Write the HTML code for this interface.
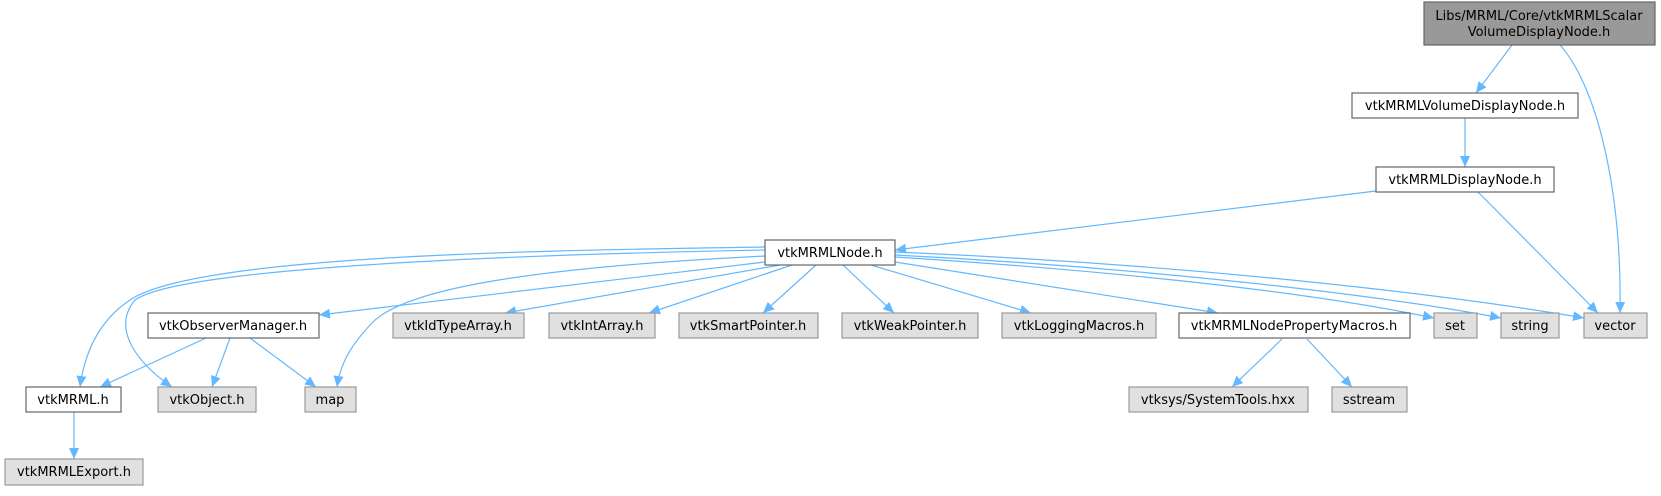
<!DOCTYPE html>
<html><head><meta charset="utf-8"><style>
body{margin:0;background:#fff}
svg text{font-family:"DejaVu Sans","Liberation Sans",sans-serif;font-size:13px;fill:#000}
</style></head><body>
<svg width="1661" height="491" viewBox="0 0 1661 491" xmlns="http://www.w3.org/2000/svg">
<defs><marker id="a" markerUnits="userSpaceOnUse" markerWidth="12" markerHeight="10" refX="11" refY="5" orient="auto"><path d="M0,0 L11,5 L0,10 Z" fill="#63b8ff"/></marker></defs>
<g fill="none" stroke="#63b8ff" stroke-width="1.2" marker-end="url(#a)">
<path d="M1512,45 L1476,93"/>
<path d="M1560,45 C1600,90 1622,200 1620,313"/>
<path d="M1465,118 L1465,167"/>
<path d="M1376,191 L895,250"/>
<path d="M1478,192 L1598,313"/>
<path d="M765,247 C600,250 200,252 130,300 C100,320 85,350 80,387"/>
<path d="M765,250 C500,255 180,268 135,300 C110,330 140,365 172,387"/>
<path d="M765,256 C520,268 410,290 375,320 C350,345 340,365 337,387"/>
<path d="M765,262 L319,315"/>
<path d="M780,265 L505,313"/>
<path d="M792,265 L649,313"/>
<path d="M816,265 L763,313"/>
<path d="M843,265 L894,313"/>
<path d="M871,265 L1031,313"/>
<path d="M895,262 L1218,313"/>
<path d="M895,257 C1100,270 1300,290 1434,318"/>
<path d="M895,255 C1150,268 1380,295 1501,318"/>
<path d="M895,252 C1200,265 1450,295 1584,318"/>
<path d="M206,338 L100,387"/>
<path d="M230,338 L212,387"/>
<path d="M250,338 L316,387"/>
<path d="M74,412 L74,459"/>
<path d="M1282,339 L1232,387"/>
<path d="M1307,339 L1352,387"/>
</g>
<g stroke-width="1.2">
<rect x="1424" y="2" width="231" height="43" fill="#999" stroke="#666"/>
<rect x="1352" y="93" width="226" height="25" fill="#fff" stroke="#666"/>
<rect x="1376" y="167" width="178" height="25" fill="#fff" stroke="#666"/>
<rect x="765" y="240" width="130" height="25" fill="#fff" stroke="#666"/>
<rect x="148" y="313" width="171" height="25" fill="#fff" stroke="#666"/>
<rect x="393" y="313" width="131" height="25" fill="#e0e0e0" stroke="#999"/>
<rect x="549" y="313" width="106" height="25" fill="#e0e0e0" stroke="#999"/>
<rect x="679" y="313" width="139" height="25" fill="#e0e0e0" stroke="#999"/>
<rect x="842" y="313" width="136" height="25" fill="#e0e0e0" stroke="#999"/>
<rect x="1002" y="313" width="154" height="25" fill="#e0e0e0" stroke="#999"/>
<rect x="1179" y="313" width="231" height="25" fill="#fff" stroke="#666"/>
<rect x="1434" y="313" width="43" height="25" fill="#e0e0e0" stroke="#999"/>
<rect x="1501" y="313" width="58" height="25" fill="#e0e0e0" stroke="#999"/>
<rect x="1584" y="313" width="63" height="25" fill="#e0e0e0" stroke="#999"/>
<rect x="26" y="387" width="95" height="25" fill="#fff" stroke="#666"/>
<rect x="158" y="387" width="98" height="25" fill="#e0e0e0" stroke="#999"/>
<rect x="305" y="387" width="51" height="25" fill="#e0e0e0" stroke="#999"/>
<rect x="1129" y="387" width="179" height="25" fill="#e0e0e0" stroke="#999"/>
<rect x="1332" y="387" width="75" height="25" fill="#e0e0e0" stroke="#999"/>
<rect x="5" y="459" width="138" height="26" fill="#e0e0e0" stroke="#999"/>
</g>
<g text-anchor="middle">
<text x="1539" y="20">Libs/MRML/Core/vtkMRMLScalar</text>
<text x="1539" y="36">VolumeDisplayNode.h</text>
<text x="1465" y="110">vtkMRMLVolumeDisplayNode.h</text>
<text x="1465" y="184">vtkMRMLDisplayNode.h</text>
<text x="830" y="257">vtkMRMLNode.h</text>
<text x="233" y="330">vtkObserverManager.h</text>
<text x="458" y="330">vtkIdTypeArray.h</text>
<text x="602" y="330">vtkIntArray.h</text>
<text x="748" y="330">vtkSmartPointer.h</text>
<text x="910" y="330">vtkWeakPointer.h</text>
<text x="1079" y="330">vtkLoggingMacros.h</text>
<text x="1294" y="330">vtkMRMLNodePropertyMacros.h</text>
<text x="1455" y="330">set</text>
<text x="1530" y="330">string</text>
<text x="1615" y="330">vector</text>
<text x="73" y="404">vtkMRML.h</text>
<text x="207" y="404">vtkObject.h</text>
<text x="330" y="404">map</text>
<text x="1218" y="404">vtksys/SystemTools.hxx</text>
<text x="1369" y="404">sstream</text>
<text x="74" y="476">vtkMRMLExport.h</text>
</g>
</svg>
</body></html>
